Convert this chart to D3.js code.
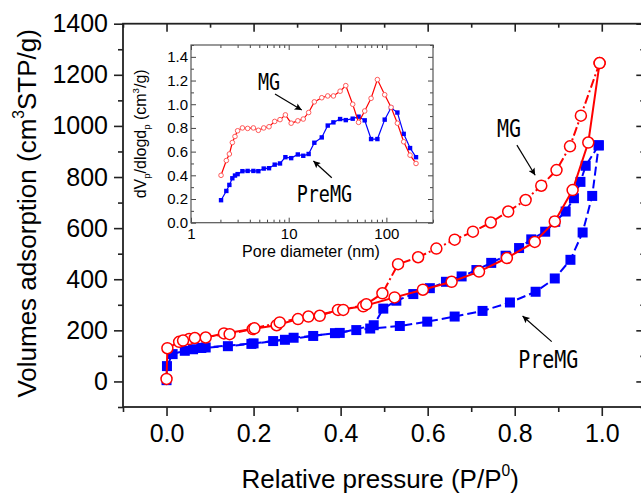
<!DOCTYPE html>
<html>
<head>
<meta charset="utf-8">
<script src="https://cdn.jsdelivr.net/npm/d3@7"></script>
<style>
html,body{margin:0;padding:0;background:#fff;}
svg{display:block;}
</style>
</head>
<body>
<svg id="chart" width="641" height="494"></svg>
<script>
// ---------------- DATA ----------------
// Main isotherm: relative pressure (P/P0) and adsorbed volume (cm3 STP/g)
const mgAdsP = [0.000,0.002,0.029,0.052,0.090,0.132,0.198,0.253,0.302,0.352,0.394,0.452,0.524,0.589,0.655,0.718,0.782,0.846,0.892,0.933,0.969,0.995];
const mgAdsV = [10,130,155,166,172,188,205,220,244,257,280,294,329,359,390,430,483,546,626,749,935,1246];
const mgDesP = [0.995,0.952,0.927,0.896,0.861,0.825,0.785,0.745,0.704,0.662,0.620,0.578,0.532,0.496,0.459,0.406,0.326,0.260,0.202,0.145,0.065,0.038];
const mgDesV = [1246,1040,920,827,766,710,665,622,586,555,520,486,459,345,302,280,254,231,208,185,170,160];
const preAdsP = [0.000,0.001,0.014,0.042,0.061,0.080,0.141,0.195,0.272,0.337,0.387,0.436,0.468,0.536,0.599,0.662,0.726,0.789,0.848,0.892,0.928,0.956,0.978,0.993];
const preAdsV = [5,60,107,120,126,131,138,147,163,178,189,201,207,217,234,254,276,309,351,403,476,583,726,924];
const preDesP = [0.993,0.963,0.951,0.936,0.917,0.893,0.870,0.838,0.810,0.779,0.746,0.712,0.678,0.642,0.605,0.567,0.528,0.498,0.476,0.398,0.292,0.245,0.200,0.090];
const preDesV = [924,844,781,717,665,625,586,556,522,492,464,436,411,390,365,342,316,285,220,190,171,158,149,133];

// Inset: pore size distribution
const poreDiam = [2.03,2.30,2.47,2.65,2.82,3.0,3.36,3.8,4.35,4.89,5.55,6.29,7.19,8.15,9.25,10.6,12.4,14.1,16.0,18.3,21.8,25.1,28.7,33.6,38.4,45.2,51.9,60,69.7,80.9,96.1,111.6,129.6,150.4,174.7,201];
const mgPSD = [0.40,0.525,0.58,0.677,0.728,0.776,0.80,0.796,0.80,0.78,0.80,0.81,0.855,0.87,0.91,0.84,0.86,0.875,0.93,1.02,1.055,1.07,1.07,1.11,1.157,1.0,0.847,0.943,1.05,1.208,1.08,0.974,0.84,0.683,0.57,0.50];
const preMgPSD = [0.19,0.268,0.319,0.375,0.398,0.41,0.435,0.437,0.437,0.435,0.457,0.46,0.49,0.50,0.553,0.545,0.576,0.565,0.58,0.675,0.72,0.82,0.847,0.875,0.866,0.878,0.895,0.864,0.706,0.706,0.87,0.97,0.93,0.75,0.63,0.553];

// Tick values
const xMajorTicks = [0.0,0.2,0.4,0.6,0.8,1.0];
const xMinorTicks = [-0.1,0.1,0.3,0.5,0.7,0.9,1.1];
const yMajorTicks = [0,200,400,600,800,1000,1200,1400];
const yMinorTicks = [-100,100,300,500,700,900,1100,1300];
const insetXMajor = [1,10,100];
const insetXMinor = [2,3,4,5,6,7,8,9,20,30,40,50,60,70,80,90,200,300];
const insetYMajor = [0,0.2,0.4,0.6,0.8,1.0,1.2,1.4];
const insetYMinor = [0.1,0.3,0.5,0.7,0.9,1.1,1.3,1.5];

// Labels
const xTitle = [{t:"Relative pressure (P/P"},{t:"0",s:"sup"},{t:")"}];
const yTitle = [{t:"Volumes adsorption (cm"},{t:"3",s:"sup"},{t:"STP/g)"}];
const insetXTitle = "Pore diameter (nm)";
const insetYTitle = [{t:"dV"},{t:"p",s:"sub"},{t:"/dlogd"},{t:"p",s:"sub"},{t:" (cm"},{t:"3",s:"sup"},{t:"/g)"}];
const seriesNames = ["MG","PreMG"];

// Annotation anchors in data coordinates
const mainNotes = [
  {name:"MG", text:[0.759,958], from:[0.805,925], to:[0.847,807]},
  {name:"PreMG", text:[0.808,53], from:[0.885,156], to:[0.818,256]}
];
const insetNotes = [
  {name:"MG", text:[4.85,1.12], from:[7.24,1.086], to:[13.6,0.951]},
  {name:"PreMG", text:[12.08,0.177], from:[27.6,0.38], to:[17.9,0.521]}
];

// ---------------- DRAW ----------------
const RED = "#ff0000", BLUE = "#0000ff";
const svg = d3.select("#chart");
const FONT = "'Liberation Sans', Arial, Helvetica, sans-serif";
const MONO = "'DejaVu Sans Mono', 'Liberation Mono', monospace";

svg.append("defs").append("marker")
  .attr("id","arrow").attr("viewBox","0 0 10 10").attr("refX",10).attr("refY",5)
  .attr("markerUnits","userSpaceOnUse").attr("markerWidth",9).attr("markerHeight",7)
  .attr("orient","auto")
  .append("path").attr("d","M0,0 L10,5 L0,10 L2,5 z").attr("fill","#000");

function rich(textSel, parts, fs){
  let pending = 0;
  parts.forEach(p=>{
    const ts = textSel.append("tspan").text(p.t);
    if(p.s==="sup"){
      ts.attr("font-size", fs*0.6).attr("dy", -fs*0.45 + pending);
      pending = fs*0.45;
    } else if(p.s==="sub"){
      ts.attr("font-size", fs*0.6).attr("dy", fs*0.22 + pending);
      pending = -fs*0.22;
    } else {
      ts.attr("dy", pending);
      pending = 0;
    }
  });
}

// Main scales
const x = d3.scaleLinear().domain([-0.1,1.1]).range([123,645.3]);
const y = d3.scaleLinear().domain([-100,1400]).range([407,23.7]);

// Axes (main)
function styleAxis(g, fs){
  g.select(".domain").remove();
  g.selectAll("line").attr("stroke","#222").attr("stroke-width",1.6);
  g.selectAll("text").attr("font-family",FONT).attr("font-size",fs).attr("fill","#000");
}
const gxb = svg.append("g").attr("transform",`translate(0,${y.range()[0]})`)
  .call(d3.axisBottom(x).tickValues(xMajorTicks).tickSize(9).tickPadding(8).tickFormat(d3.format(".1f")));
styleAxis(gxb,25);
const gxbm = svg.append("g").attr("transform",`translate(0,${y.range()[0]})`)
  .call(d3.axisBottom(x).tickValues(xMinorTicks).tickSize(5).tickFormat(""));
styleAxis(gxbm,25);
const gyl = svg.append("g").attr("transform",`translate(${x.range()[0]},0)`)
  .call(d3.axisLeft(y).tickValues(yMajorTicks).tickSize(9).tickPadding(6).tickFormat(d3.format("d")));
styleAxis(gyl,25);
const gylm = svg.append("g").attr("transform",`translate(${x.range()[0]},0)`)
  .call(d3.axisLeft(y).tickValues(yMinorTicks).tickSize(5).tickFormat(""));
styleAxis(gylm,25);
const gxt = svg.append("g").attr("transform",`translate(0,${y.range()[1]})`)
  .call(d3.axisTop(x).tickValues(xMajorTicks).tickSize(-8).tickFormat(""));
styleAxis(gxt,25);
const gxtm = svg.append("g").attr("transform",`translate(0,${y.range()[1]})`)
  .call(d3.axisTop(x).tickValues(xMinorTicks).tickSize(-4).tickFormat(""));
styleAxis(gxtm,25);
const gyr = svg.append("g").attr("transform",`translate(${x.range()[1]},0)`)
  .call(d3.axisRight(y).tickValues(yMajorTicks).tickSize(-9).tickFormat(""));
styleAxis(gyr,25);
const gyrm = svg.append("g").attr("transform",`translate(${x.range()[1]},0)`)
  .call(d3.axisRight(y).tickValues(yMinorTicks).tickSize(-5).tickFormat(""));
styleAxis(gyrm,25);

svg.append("rect")
  .attr("x",x.range()[0]).attr("y",y.range()[1])
  .attr("width",x.range()[1]-x.range()[0]).attr("height",y.range()[0]-y.range()[1])
  .attr("fill","none").attr("stroke","#222").attr("stroke-width",1.8);

// Titles
const xt = svg.append("text").attr("x",(x(0)+x(1))/2 - 4).attr("y",488)
  .attr("text-anchor","middle").attr("font-family",FONT).attr("font-size",26);
rich(xt, xTitle, 26);
const yt = svg.append("text").attr("transform",`translate(36,${(y(-100)+y(1400))/2 -2}) rotate(-90)`)
  .attr("text-anchor","middle").attr("font-family",FONT).attr("font-size",26);
rich(yt, yTitle, 26);

// ---------------- INSET ----------------
const xi = d3.scaleLog().domain([1,300]).range([191,433]);
const yi = d3.scaleLinear().domain([0,1.5]).range([222.7,45]);

function styleInset(g){
  g.select(".domain").remove();
  g.selectAll("line").attr("stroke","#444").attr("stroke-width",1);
  g.selectAll("text").attr("font-family",FONT).attr("font-size",15).attr("fill","#000");
}
const ib = svg.append("g").attr("transform",`translate(0,${yi.range()[0]})`)
  .call(d3.axisBottom(xi).tickValues(insetXMajor).tickSize(-5).tickPadding(6).tickFormat(d3.format("d")));
styleInset(ib);
const ibm = svg.append("g").attr("transform",`translate(0,${yi.range()[0]})`)
  .call(d3.axisBottom(xi).tickValues(insetXMinor).tickSize(-3).tickFormat(""));
styleInset(ibm);
const it = svg.append("g").attr("transform",`translate(0,${yi.range()[1]})`)
  .call(d3.axisTop(xi).tickValues(insetXMajor).tickSize(-5).tickFormat(""));
styleInset(it);
const itm = svg.append("g").attr("transform",`translate(0,${yi.range()[1]})`)
  .call(d3.axisTop(xi).tickValues(insetXMinor).tickSize(-3).tickFormat(""));
styleInset(itm);
const il = svg.append("g").attr("transform",`translate(${xi.range()[0]},0)`)
  .call(d3.axisLeft(yi).tickValues(insetYMajor).tickSize(-5).tickPadding(3).tickFormat(d3.format(".1f")));
styleInset(il);
const ilm = svg.append("g").attr("transform",`translate(${xi.range()[0]},0)`)
  .call(d3.axisLeft(yi).tickValues(insetYMinor).tickSize(-3).tickFormat(""));
styleInset(ilm);
const ir = svg.append("g").attr("transform",`translate(${xi.range()[1]},0)`)
  .call(d3.axisRight(yi).tickValues(insetYMajor).tickSize(-5).tickFormat(""));
styleInset(ir);
const irm = svg.append("g").attr("transform",`translate(${xi.range()[1]},0)`)
  .call(d3.axisRight(yi).tickValues(insetYMinor).tickSize(-3).tickFormat(""));
styleInset(irm);
svg.append("rect")
  .attr("x",xi.range()[0]).attr("y",yi.range()[1])
  .attr("width",xi.range()[1]-xi.range()[0]).attr("height",yi.range()[0]-yi.range()[1])
  .attr("fill","none").attr("stroke","#555").attr("stroke-width",1.2);

svg.append("text").attr("x",(xi.range()[0]+xi.range()[1])/2 - 1).attr("y",257)
  .attr("text-anchor","middle").attr("font-family",FONT).attr("font-size",16).text(insetXTitle);
const iyt = svg.append("text").attr("transform",`translate(146,${(yi.range()[0]+yi.range()[1])/2}) rotate(-90)`)
  .attr("text-anchor","middle").attr("font-family",FONT).attr("font-size",16);
rich(iyt, insetYTitle, 16);

// Inset series
const psdMG = poreDiam.map((d,i)=>[d,mgPSD[i]]);
const psdPre = poreDiam.map((d,i)=>[d,preMgPSD[i]]);
const iline = d3.line().x(d=>xi(d[0])).y(d=>yi(d[1]));
svg.append("path").attr("d",iline(psdPre)).attr("fill","none").attr("stroke",BLUE).attr("stroke-width",1.2);
svg.append("g").selectAll("rect").data(psdPre).join("rect")
  .attr("x",d=>xi(d[0])-2.2).attr("y",d=>yi(d[1])-2.2).attr("width",4.4).attr("height",4.4).attr("fill",BLUE);
svg.append("path").attr("d",iline(psdMG)).attr("fill","none").attr("stroke",RED).attr("stroke-width",1.2);
svg.append("g").selectAll("circle").data(psdMG).join("circle")
  .attr("cx",d=>xi(d[0])).attr("cy",d=>yi(d[1])).attr("r",2.3)
  .attr("fill","#fff").attr("stroke","#ff5a5a").attr("stroke-width",1);

// ---------------- MAIN SERIES ----------------
const line = d3.line().x(d=>x(d[0])).y(d=>y(d[1]));
const preAds = preAdsP.map((p,i)=>[p,preAdsV[i]]);
const preDes = preDesP.map((p,i)=>[p,preDesV[i]]);
const mgAds = mgAdsP.map((p,i)=>[p,mgAdsV[i]]);
const mgDes = mgDesP.map((p,i)=>[p,mgDesV[i]]);

[preAds, preDes].forEach(s=>{
  svg.append("path").attr("d",line(s)).attr("fill","none").attr("stroke",BLUE)
    .attr("stroke-width",2).attr("stroke-dasharray","9,4");
});
[preAds, preDes].forEach(s=>{
  svg.append("g").selectAll("rect").data(s).join("rect")
    .attr("x",d=>x(d[0])-5).attr("y",d=>y(d[1])-5).attr("width",10).attr("height",10).attr("fill",BLUE);
});
svg.append("path").attr("d",line(mgAds)).attr("fill","none").attr("stroke",RED).attr("stroke-width",2);
svg.append("path").attr("d",line(mgDes)).attr("fill","none").attr("stroke",RED)
  .attr("stroke-width",2).attr("stroke-dasharray","9,3,2,3");
[mgAds, mgDes].forEach(s=>{
  svg.append("g").selectAll("circle").data(s).join("circle")
    .attr("cx",d=>x(d[0])).attr("cy",d=>y(d[1])).attr("r",5.5)
    .attr("fill","#fff").attr("stroke",RED).attr("stroke-width",1.5);
});

// ---------------- ANNOTATIONS ----------------
function note(n, sx, sy, fs){
  const tx = sx(n.text[0]), ty = sy(n.text[1]);
  svg.append("text").attr("transform",`translate(${tx},${ty}) scale(0.8,1)`)
    .attr("font-family",MONO).attr("font-size",fs).attr("fill","#000").text(n.name);
  svg.append("line")
    .attr("x1",sx(n.from[0])).attr("y1",sy(n.from[1]))
    .attr("x2",sx(n.to[0])).attr("y2",sy(n.to[1]))
    .attr("stroke","#000").attr("stroke-width",1.2).attr("marker-end","url(#arrow)");
}
mainNotes.forEach(n=>note(n,x,y,25));
insetNotes.forEach(n=>note(n,xi,yi,23));
</script>
</body>
</html>
